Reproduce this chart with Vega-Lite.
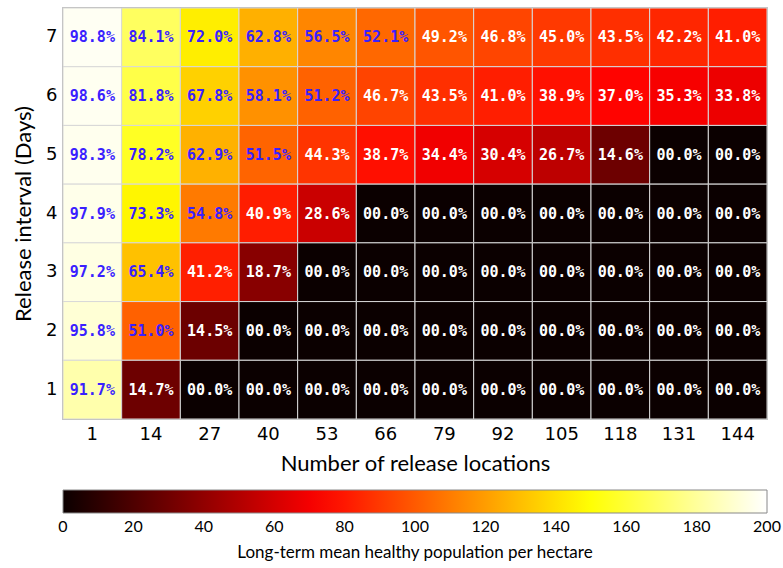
{
  "$schema": "https://vega.github.io/schema/vega-lite/v6.json",
  "autosize": "none",
  "width": 704,
  "height": 411,
  "padding": {"left": 63, "top": 8, "right": 16, "bottom": 149},
  "background": "white",
  "config": {
    "view": {"stroke": "#999999", "strokeWidth": 1.5},
    "axis": {"labelFont": "DejaVu Sans", "labelFontSize": 18, "labelColor": "#000000", "titleFont": "Lato", "titleFontSize": 22, "titleFontWeight": "normal", "titleColor": "#000000", "ticks": false, "domain": false, "grid": false}
  },
  "data": {
    "values": [
      {"loc": 1, "interval": 7, "pct": 98.8, "pop": 197.6, "label": "98.8%"},
      {"loc": 14, "interval": 7, "pct": 84.1, "pop": 168.2, "label": "84.1%"},
      {"loc": 27, "interval": 7, "pct": 72.0, "pop": 144.0, "label": "72.0%"},
      {"loc": 40, "interval": 7, "pct": 62.8, "pop": 125.6, "label": "62.8%"},
      {"loc": 53, "interval": 7, "pct": 56.5, "pop": 113.0, "label": "56.5%"},
      {"loc": 66, "interval": 7, "pct": 52.1, "pop": 104.2, "label": "52.1%"},
      {"loc": 79, "interval": 7, "pct": 49.2, "pop": 98.4, "label": "49.2%"},
      {"loc": 92, "interval": 7, "pct": 46.8, "pop": 93.6, "label": "46.8%"},
      {"loc": 105, "interval": 7, "pct": 45.0, "pop": 90.0, "label": "45.0%"},
      {"loc": 118, "interval": 7, "pct": 43.5, "pop": 87.0, "label": "43.5%"},
      {"loc": 131, "interval": 7, "pct": 42.2, "pop": 84.4, "label": "42.2%"},
      {"loc": 144, "interval": 7, "pct": 41.0, "pop": 82.0, "label": "41.0%"},
      {"loc": 1, "interval": 6, "pct": 98.6, "pop": 197.2, "label": "98.6%"},
      {"loc": 14, "interval": 6, "pct": 81.8, "pop": 163.6, "label": "81.8%"},
      {"loc": 27, "interval": 6, "pct": 67.8, "pop": 135.6, "label": "67.8%"},
      {"loc": 40, "interval": 6, "pct": 58.1, "pop": 116.2, "label": "58.1%"},
      {"loc": 53, "interval": 6, "pct": 51.2, "pop": 102.4, "label": "51.2%"},
      {"loc": 66, "interval": 6, "pct": 46.7, "pop": 93.4, "label": "46.7%"},
      {"loc": 79, "interval": 6, "pct": 43.5, "pop": 87.0, "label": "43.5%"},
      {"loc": 92, "interval": 6, "pct": 41.0, "pop": 82.0, "label": "41.0%"},
      {"loc": 105, "interval": 6, "pct": 38.9, "pop": 77.8, "label": "38.9%"},
      {"loc": 118, "interval": 6, "pct": 37.0, "pop": 74.0, "label": "37.0%"},
      {"loc": 131, "interval": 6, "pct": 35.3, "pop": 70.6, "label": "35.3%"},
      {"loc": 144, "interval": 6, "pct": 33.8, "pop": 67.6, "label": "33.8%"},
      {"loc": 1, "interval": 5, "pct": 98.3, "pop": 196.6, "label": "98.3%"},
      {"loc": 14, "interval": 5, "pct": 78.2, "pop": 156.4, "label": "78.2%"},
      {"loc": 27, "interval": 5, "pct": 62.9, "pop": 125.8, "label": "62.9%"},
      {"loc": 40, "interval": 5, "pct": 51.5, "pop": 103.0, "label": "51.5%"},
      {"loc": 53, "interval": 5, "pct": 44.3, "pop": 88.6, "label": "44.3%"},
      {"loc": 66, "interval": 5, "pct": 38.7, "pop": 77.4, "label": "38.7%"},
      {"loc": 79, "interval": 5, "pct": 34.4, "pop": 68.8, "label": "34.4%"},
      {"loc": 92, "interval": 5, "pct": 30.4, "pop": 60.8, "label": "30.4%"},
      {"loc": 105, "interval": 5, "pct": 26.7, "pop": 53.4, "label": "26.7%"},
      {"loc": 118, "interval": 5, "pct": 14.6, "pop": 29.2, "label": "14.6%"},
      {"loc": 131, "interval": 5, "pct": 0, "pop": 0, "label": "00.0%"},
      {"loc": 144, "interval": 5, "pct": 0, "pop": 0, "label": "00.0%"},
      {"loc": 1, "interval": 4, "pct": 97.9, "pop": 195.8, "label": "97.9%"},
      {"loc": 14, "interval": 4, "pct": 73.3, "pop": 146.6, "label": "73.3%"},
      {"loc": 27, "interval": 4, "pct": 54.8, "pop": 109.6, "label": "54.8%"},
      {"loc": 40, "interval": 4, "pct": 40.9, "pop": 81.8, "label": "40.9%"},
      {"loc": 53, "interval": 4, "pct": 28.6, "pop": 57.2, "label": "28.6%"},
      {"loc": 66, "interval": 4, "pct": 0, "pop": 0, "label": "00.0%"},
      {"loc": 79, "interval": 4, "pct": 0, "pop": 0, "label": "00.0%"},
      {"loc": 92, "interval": 4, "pct": 0, "pop": 0, "label": "00.0%"},
      {"loc": 105, "interval": 4, "pct": 0, "pop": 0, "label": "00.0%"},
      {"loc": 118, "interval": 4, "pct": 0, "pop": 0, "label": "00.0%"},
      {"loc": 131, "interval": 4, "pct": 0, "pop": 0, "label": "00.0%"},
      {"loc": 144, "interval": 4, "pct": 0, "pop": 0, "label": "00.0%"},
      {"loc": 1, "interval": 3, "pct": 97.2, "pop": 194.4, "label": "97.2%"},
      {"loc": 14, "interval": 3, "pct": 65.4, "pop": 130.8, "label": "65.4%"},
      {"loc": 27, "interval": 3, "pct": 41.2, "pop": 82.4, "label": "41.2%"},
      {"loc": 40, "interval": 3, "pct": 18.7, "pop": 37.4, "label": "18.7%"},
      {"loc": 53, "interval": 3, "pct": 0, "pop": 0, "label": "00.0%"},
      {"loc": 66, "interval": 3, "pct": 0, "pop": 0, "label": "00.0%"},
      {"loc": 79, "interval": 3, "pct": 0, "pop": 0, "label": "00.0%"},
      {"loc": 92, "interval": 3, "pct": 0, "pop": 0, "label": "00.0%"},
      {"loc": 105, "interval": 3, "pct": 0, "pop": 0, "label": "00.0%"},
      {"loc": 118, "interval": 3, "pct": 0, "pop": 0, "label": "00.0%"},
      {"loc": 131, "interval": 3, "pct": 0, "pop": 0, "label": "00.0%"},
      {"loc": 144, "interval": 3, "pct": 0, "pop": 0, "label": "00.0%"},
      {"loc": 1, "interval": 2, "pct": 95.8, "pop": 191.6, "label": "95.8%"},
      {"loc": 14, "interval": 2, "pct": 51.0, "pop": 102.0, "label": "51.0%"},
      {"loc": 27, "interval": 2, "pct": 14.5, "pop": 29.0, "label": "14.5%"},
      {"loc": 40, "interval": 2, "pct": 0, "pop": 0, "label": "00.0%"},
      {"loc": 53, "interval": 2, "pct": 0, "pop": 0, "label": "00.0%"},
      {"loc": 66, "interval": 2, "pct": 0, "pop": 0, "label": "00.0%"},
      {"loc": 79, "interval": 2, "pct": 0, "pop": 0, "label": "00.0%"},
      {"loc": 92, "interval": 2, "pct": 0, "pop": 0, "label": "00.0%"},
      {"loc": 105, "interval": 2, "pct": 0, "pop": 0, "label": "00.0%"},
      {"loc": 118, "interval": 2, "pct": 0, "pop": 0, "label": "00.0%"},
      {"loc": 131, "interval": 2, "pct": 0, "pop": 0, "label": "00.0%"},
      {"loc": 144, "interval": 2, "pct": 0, "pop": 0, "label": "00.0%"},
      {"loc": 1, "interval": 1, "pct": 91.7, "pop": 183.4, "label": "91.7%"},
      {"loc": 14, "interval": 1, "pct": 14.7, "pop": 29.4, "label": "14.7%"},
      {"loc": 27, "interval": 1, "pct": 0, "pop": 0, "label": "00.0%"},
      {"loc": 40, "interval": 1, "pct": 0, "pop": 0, "label": "00.0%"},
      {"loc": 53, "interval": 1, "pct": 0, "pop": 0, "label": "00.0%"},
      {"loc": 66, "interval": 1, "pct": 0, "pop": 0, "label": "00.0%"},
      {"loc": 79, "interval": 1, "pct": 0, "pop": 0, "label": "00.0%"},
      {"loc": 92, "interval": 1, "pct": 0, "pop": 0, "label": "00.0%"},
      {"loc": 105, "interval": 1, "pct": 0, "pop": 0, "label": "00.0%"},
      {"loc": 118, "interval": 1, "pct": 0, "pop": 0, "label": "00.0%"},
      {"loc": 131, "interval": 1, "pct": 0, "pop": 0, "label": "00.0%"},
      {"loc": 144, "interval": 1, "pct": 0, "pop": 0, "label": "00.0%"}
    ]
  },
  "encoding": {
    "x": {"field": "loc", "type": "ordinal", "title": "Number of release locations", "scale": {"paddingInner": 0, "paddingOuter": 0}, "axis": {"labelAngle": 0, "labelPadding": 6, "titlePadding": 10}},
    "y": {"field": "interval", "type": "ordinal", "sort": "descending", "title": "Release interval (Days)", "scale": {"paddingInner": 0, "paddingOuter": 0}, "axis": {"labelPadding": 6, "titlePadding": 10}}
  },
  "layer": [
    {
      "mark": {"type": "rect", "stroke": "#d8d8d8", "strokeWidth": 1},
      "encoding": {
        "color": {
          "field": "pop",
          "type": "quantitative",
          "scale": {"domain": [0, 73, 149.2, 200], "range": ["#0b0000", "#ff0000", "#ffff00", "#ffffff"], "interpolate": "rgb"},
          "legend": {
            "orient": "none",
            "legendX": 0,
            "legendY": 482,
            "direction": "horizontal",
            "gradientLength": 704,
            "gradientThickness": 23,
            "gradientStrokeColor": "#888888",
            "gradientStrokeWidth": 1,
            "values": [0, 20, 40, 60, 80, 100, 120, 140, 160, 180, 200],
            "labelAlign": "center",
            "labelOverlap": false,
            "labelFont": "Lato",
            "labelFontSize": 16,
            "labelColor": "#000000",
            "labelOffset": 6,
            "title": "Long-term mean healthy population per hectare",
            "titleLimit": 800,
            "titleOrient": "bottom",
            "titleAnchor": "middle",
            "titleFont": "Lato",
            "titleFontSize": 17,
            "titleFontWeight": "normal",
            "titleColor": "#000000",
            "titlePadding": 10,
            "encode": {"labels": {"update": {"align": {"value": "center"}}}}
          }
        }
      }
    },
    {
      "mark": {"type": "text", "font": "DejaVu Sans Mono", "fontWeight": "bold", "fontSize": 15},
      "encoding": {
        "text": {"field": "label"},
        "color": {"condition": {"test": "datum.pct >= 50", "value": "#3a1fff"}, "value": "#ffffff"}
      }
    }
  ]
}
